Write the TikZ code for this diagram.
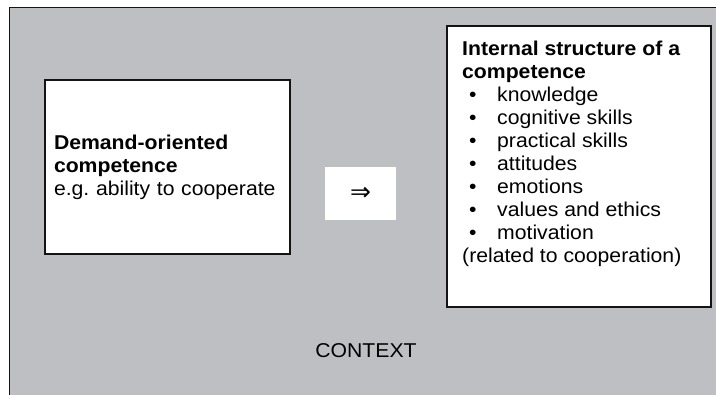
\documentclass[tikz,border=0pt]{standalone}
\usepackage{fontspec}
\setmainfont{Liberation Sans}[FakeStretch=1.06]
\newfontfamily\symfont{DejaVu Sans}
\definecolor{ctxgrey}{RGB}{190,191,195}
\definecolor{boxline}{RGB}{20,20,20}
\newcommand\bitem[1]{\makebox[35pt][l]{\hspace{7pt}\textbullet}#1}
\begin{document}
\begin{tikzpicture}[x=1pt,y=-1pt,
  txt/.style={font=\fontsize{20}{23}\selectfont\frenchspacing, text=black},
  whitebox/.style={draw=boxline, line width=1.6pt, fill=white, rectangle},
  ]
\useasboundingbox (0,0) rectangle (716,395);
\fill[white] (0,0) rectangle (716,395);
\fill[ctxgrey] (9.5,7.5) rectangle (716,395);
\draw[line width=1.3pt, boxline] (9.5,395) -- (9.5,7.5) -- (716,7.5);
% left box
\node[whitebox, txt, minimum width=245pt, minimum height=174pt, text width=227pt, inner xsep=9pt, align=left]
  (demand) at (167.5,167) {\textbf{Demand-oriented}\\\textbf{competence}\\e.g. ability to cooperate};
% arrow box
\node[fill=white, minimum width=71pt, minimum height=53pt, inner sep=0pt] (arrow) at (360.5,193.5)
  {\symfont\fontsize{25}{25}\selectfont ⇒};
% right box
\node[whitebox, minimum width=264pt, minimum height=281pt, inner sep=0pt] (internal) at (579,166.5) {};
\node[txt, align=left, inner sep=0pt, anchor=north west] (internaltext) at (462,40.5)
  {\textbf{Internal structure of a}\\
   \textbf{competence}\\
   \bitem{knowledge}\\
   \bitem{cognitive skills}\\
   \bitem{practical skills}\\
   \bitem{attitudes}\\
   \bitem{emotions}\\
   \bitem{values and ethics}\\
   \bitem{motivation}\\
   (related to cooperation)};
% context label
\node[txt, anchor=base] (context) at (366,358) {CONTEXT};
\end{tikzpicture}
\end{document}
